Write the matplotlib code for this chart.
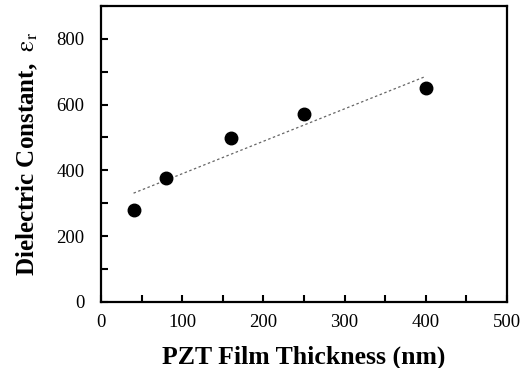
import numpy as np
import matplotlib
matplotlib.use("Agg")
import matplotlib.pyplot as plt
from matplotlib.ticker import MultipleLocator

thickness = [40, 80, 160, 250, 400]
dielectric = [280, 375, 497, 570, 650]
xticks = [0, 100, 200, 300, 400, 500]
yticks = [0, 200, 400, 600, 800]

plt.rcParams['font.family'] = ['Liberation Serif', 'DejaVu Serif']
plt.rcParams['mathtext.fontset'] = 'stix'

fig = plt.figure(figsize=(5.21, 3.68), dpi=100)
ax = fig.add_axes([0.194, 0.180, 0.779, 0.804])

ax.plot(thickness, dielectric, 'o', color='black', markersize=9, zorder=3)

coef = np.polyfit(thickness, dielectric, 1)
xf = np.array([min(thickness), max(thickness)])
ax.plot(xf, np.polyval(coef, xf), color='#666666', linestyle=(0, (2, 2)), linewidth=0.9)

ax.set_xlim(0, 500)
ax.set_ylim(0, 900)
ax.set_xticks(xticks)
ax.set_yticks(yticks)
ax.xaxis.set_minor_locator(MultipleLocator(50))
ax.yaxis.set_minor_locator(MultipleLocator(100))
ax.tick_params(which='both', direction='in', length=5, width=1.5, labelsize=13.5)
ax.tick_params(axis='y', pad=12)
ax.tick_params(axis='x', pad=9)
for s in ax.spines.values():
    s.set_linewidth(1.6)

ax.set_xlabel('PZT Film Thickness (nm)', fontsize=18.5, fontweight='bold', labelpad=10)
ax.set_ylabel(r'Dielectric Constant,  $\mathrm{\varepsilon_r}$', fontsize=18, fontweight='bold', labelpad=12)

fig.savefig('out.png', dpi=100)
